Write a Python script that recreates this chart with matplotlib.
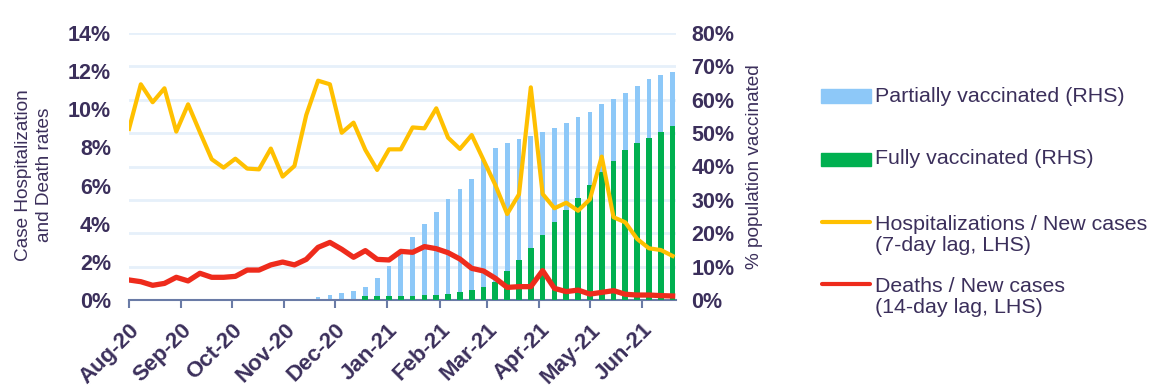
import matplotlib.pyplot as plt
import matplotlib.dates as mdates
from matplotlib.patches import Rectangle
from matplotlib.lines import Line2D
import numpy as np
import pandas as pd

plt.rcParams['font.family'] = ['Liberation Sans', 'DejaVu Sans']

# weekly observations, Aug-2020 to Jun-2021
weeks = pd.date_range('2020-08-01', periods=47, freq='7D')

# Hospitalizations / new cases (7-day lag), %
hosp = [8.97, 11.31, 10.37, 11.1, 8.83, 10.26, 8.8, 7.38, 6.94, 7.41,
        6.89, 6.85, 7.94, 6.47, 7.03, 9.70, 11.5, 11.31, 8.77, 9.30,
        7.87, 6.82, 7.90, 7.90, 9.05, 9.00, 10.05, 8.51, 7.92, 8.65,
        7.34, 6.03, 4.51, 5.54, 11.15, 5.56, 4.81, 5.10, 4.68, 5.28,
        7.52, 4.34, 4.07, 3.20, 2.71, 2.62, 2.31]

# Deaths / new cases (14-day lag), %
deaths = [1.05, 0.96, 0.77, 0.87, 1.19, 1.0, 1.40, 1.19, 1.19, 1.24,
          1.57, 1.57, 1.84, 1.99, 1.84, 2.13, 2.76, 3.02, 2.66, 2.24,
          2.59, 2.13, 2.10, 2.55, 2.50, 2.80, 2.69, 2.48, 2.15, 1.66,
          1.52, 1.14, 0.66, 0.70, 0.70, 1.54, 0.61, 0.44, 0.52, 0.31,
          0.40, 0.49, 0.30, 0.26, 0.26, 0.23, 0.21]

# % population vaccinated
partial = [0] * 16 + [0.9, 1.4, 2.0, 2.6, 3.8, 6.5, 10.1, 13.7, 18.8, 22.9,
                      26.5, 30.4, 33.4, 36.4, 41.9, 45.4, 47.1, 48.1, 49.0, 50.2,
                      51.4, 52.9, 54.7, 56.4, 58.6, 60.1, 61.9, 64.1, 66.1, 67.4,
                      68.2]
fully = [0] * 20 + [1.2, 1.2, 1.2, 1.2, 1.2, 1.4, 1.5, 1.8, 2.4, 3.0,
                    3.9, 5.5, 8.7, 12.0, 15.6, 19.5, 23.3, 26.9, 30.6, 34.4,
                    38.4, 41.6, 44.9, 47.0, 48.5, 50.3, 52.1]

txt = '#3B2F5B'
W, H = 1168, 391

fig = plt.figure(figsize=(11.68, 3.91), dpi=100)
ax = fig.add_axes([129 / W, 1 - 300 / H, 547 / W, 267 / H])
ax2 = ax.twinx()

# bars on the right-hand scale
ax.bar(weeks, partial, width=2.8, color='#8DC8F8', zorder=2)
ax.bar(weeks, fully, width=3.4, color='#00B050', zorder=3)
ax.set_ylim(0, 80)
ax.set_yticks(np.arange(0, 81, 10))
ax.set_yticklabels([f'{v}%' for v in range(0, 81, 10)])
ax.yaxis.tick_right()
ax.grid(axis='y', color='#E6F0FA', lw=2)
ax.set_axisbelow(True)

# lines on the left-hand scale
ax2.plot(weeks, hosp, color='#FFC000', lw=3)
ax2.plot(weeks, deaths, color='#EE2B1C', lw=3.8)
ax2.set_ylim(0, 14)
ax2.set_yticks(np.arange(0, 15, 2))
ax2.set_yticklabels([f'{v}%' for v in range(0, 15, 2)])
ax2.yaxis.tick_left()

ax.set_xlim(mdates.date2num(pd.Timestamp('2020-08-01')),
            mdates.date2num(pd.Timestamp('2021-06-21')))
ax.xaxis.set_major_locator(mdates.MonthLocator())
ax.xaxis.set_major_formatter(mdates.DateFormatter('%b-%y'))

for a in (ax, ax2):
    for s in a.spines.values():
        s.set_visible(False)
ax.spines['bottom'].set_visible(True)
ax.spines['bottom'].set_color('#6A7BA6')
ax.spines['bottom'].set_linewidth(1.5)

ax.tick_params(axis='x', direction='out', length=6, width=1.5, color='#6A7BA6',
               labelsize=16, labelcolor=txt, pad=8)
ax.tick_params(axis='y', length=0, labelsize=15.5, labelcolor=txt, pad=11)
ax2.tick_params(axis='y', length=0, labelsize=15.5, labelcolor=txt, pad=13)
for lbl in ax.get_xticklabels():
    lbl.set_rotation(45)
    lbl.set_ha('right')
    lbl.set_rotation_mode('anchor')
    lbl.set_fontweight('bold')
for lbl in ax.get_yticklabels() + ax2.get_yticklabels():
    lbl.set_fontweight('bold')

fig.text(34 / W, 1 - 175 / H, 'Case Hospitalization\nand Death rates', rotation=90,
         ha='center', va='center', fontsize=13.7, color=txt, linespacing=1.35)
fig.text(755 / W, 1 - 167 / H, '% population vaccinated', rotation=90,
         ha='center', va='center', fontsize=13.7, color=txt)

# legend
def fx(px):
    return px / W

def fy(py):
    return 1 - py / H

fig.add_artist(Rectangle((fx(821), fy(103)), 50 / W, 14 / H, color='#8DC8F8',
                         transform=fig.transFigure))
fig.add_artist(Rectangle((fx(821), fy(166)), 50 / W, 13 / H, color='#00B050',
                         transform=fig.transFigure))
fig.add_artist(Line2D([fx(822), fx(870)], [fy(222), fy(222)], color='#FFC000',
                      lw=3, solid_capstyle='round', transform=fig.transFigure))
fig.add_artist(Line2D([fx(822), fx(870)], [fy(284), fy(284)], color='#EE2B1C',
                      lw=3, solid_capstyle='round', transform=fig.transFigure))
leg_kw = dict(fontsize=15.4, color=txt, ha='left', va='center', linespacing=1.15)
fig.text(fx(875), fy(96), 'Partially vaccinated (RHS)', **leg_kw)
fig.text(fx(875), fy(159), 'Fully vaccinated (RHS)', **leg_kw)
fig.text(fx(875), fy(235), 'Hospitalizations / New cases\n(7-day lag, LHS)', **leg_kw)
fig.text(fx(875), fy(297), 'Deaths / New cases\n(14-day lag, LHS)', **leg_kw)

fig.savefig('out.png', dpi=100)
